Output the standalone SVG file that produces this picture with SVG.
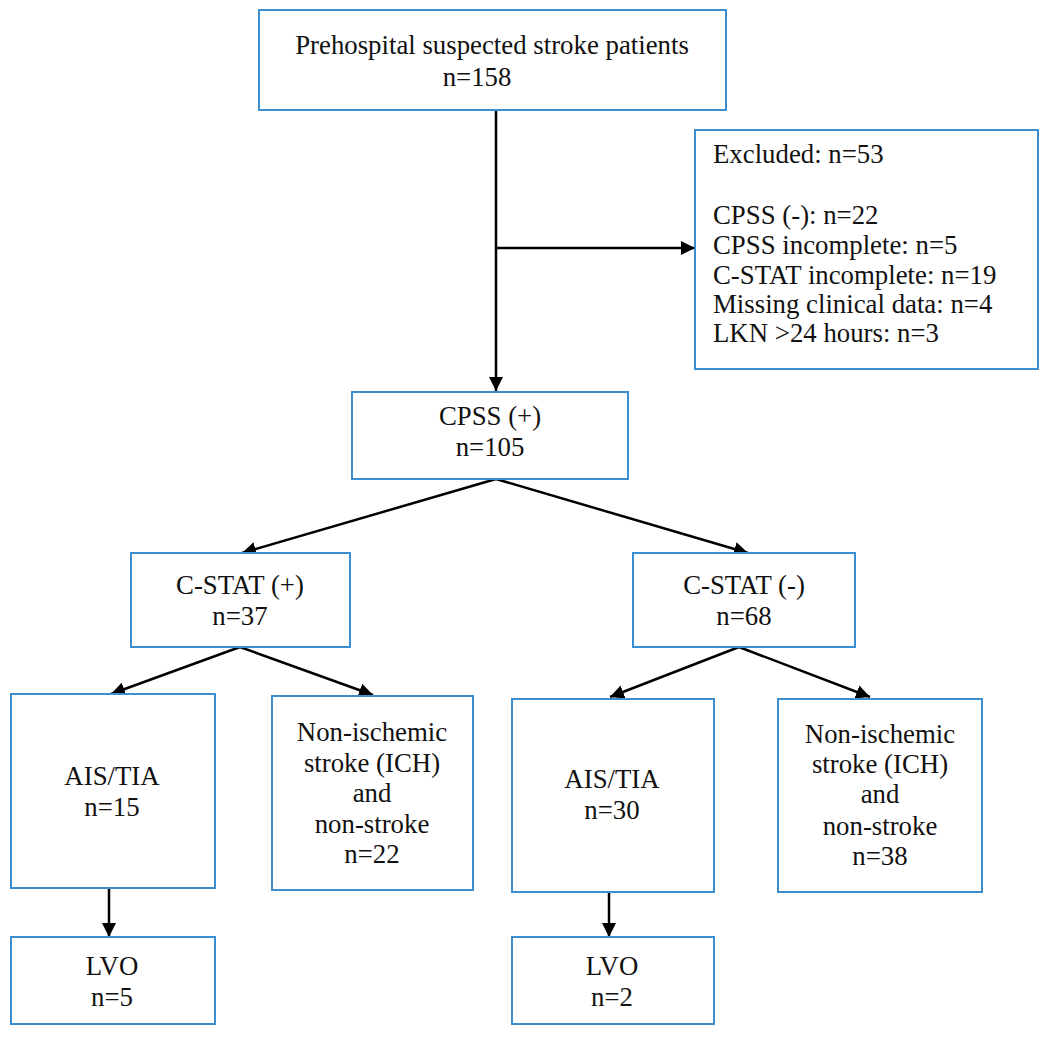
<svg xmlns="http://www.w3.org/2000/svg" width="1050" height="1037" viewBox="0 0 1050 1037">
<style>
.box{fill:#ffffff;stroke:#3b8fd0;stroke-width:2}
.t{font-family:"Liberation Serif","Times New Roman",serif;font-size:26.8px;fill:#111111}
.c{text-anchor:middle}
.ln{stroke:#000000;stroke-width:2.5;fill:none}
</style>
<defs>
<marker id="ah" viewBox="0 0 14 14" refX="14" refY="7" markerWidth="14" markerHeight="14" markerUnits="userSpaceOnUse" orient="auto">
<path d="M0,0 L14,7 L0,14 z" fill="#000000"/>
</marker>
</defs>
<rect width="1050" height="1037" fill="#ffffff"/>
<g id="connectors">
<line class="ln" x1="496" y1="110" x2="496" y2="391" marker-end="url(#ah)"/>
<line class="ln" x1="496" y1="248" x2="695" y2="248" marker-end="url(#ah)"/>
<line class="ln" x1="496" y1="479" x2="242" y2="553" marker-end="url(#ah)"/>
<line class="ln" x1="496" y1="479" x2="748" y2="553" marker-end="url(#ah)"/>
<line class="ln" x1="240" y1="647" x2="111" y2="694" marker-end="url(#ah)"/>
<line class="ln" x1="240" y1="647" x2="373" y2="695" marker-end="url(#ah)"/>
<line class="ln" x1="739" y1="647" x2="610" y2="697" marker-end="url(#ah)"/>
<line class="ln" x1="739" y1="647" x2="870" y2="697" marker-end="url(#ah)"/>
<line class="ln" x1="109" y1="888" x2="109" y2="937" marker-end="url(#ah)"/>
<line class="ln" x1="609" y1="892" x2="609" y2="937" marker-end="url(#ah)"/>
</g>
<g id="n-prehospital">
<rect class="box" x="259" y="10" width="467" height="100"/>
<text class="t c" x="492" y="54">Prehospital suspected stroke patients</text>
<text class="t c" x="477" y="86">n=158</text>
</g>
<g id="n-excluded">
<rect class="box" x="695" y="130" width="343" height="239"/>
<text class="t" x="713" y="163">Excluded: n=53</text>
<text class="t" x="713" y="224">CPSS (-): n=22</text>
<text class="t" x="713" y="254">CPSS incomplete: n=5</text>
<text class="t" x="713" y="284">C-STAT incomplete: n=19</text>
<text class="t" x="713" y="313">Missing clinical data: n=4</text>
<text class="t" x="713" y="342">LKN &gt;24 hours: n=3</text>
</g>
<g id="n-cpss">
<rect class="box" x="352" y="392" width="276" height="87"/>
<text class="t c" x="490" y="425">CPSS (+)</text>
<text class="t c" x="490" y="456">n=105</text>
</g>
<g id="n-cstat-pos">
<rect class="box" x="131" y="553" width="219" height="94"/>
<text class="t c" x="240" y="594">C-STAT (+)</text>
<text class="t c" x="240" y="625">n=37</text>
</g>
<g id="n-cstat-neg">
<rect class="box" x="633" y="553" width="222" height="94"/>
<text class="t c" x="744" y="594">C-STAT (-)</text>
<text class="t c" x="744" y="625">n=68</text>
</g>
<g id="n-ais-1">
<rect class="box" x="11" y="694" width="204" height="194"/>
<text class="t c" x="112" y="785">AIS/TIA</text>
<text class="t c" x="112" y="816">n=15</text>
</g>
<g id="n-non-1">
<rect class="box" x="272" y="696" width="201" height="194"/>
<text class="t c" x="372" y="741">Non-ischemic</text>
<text class="t c" x="372" y="772">stroke (ICH)</text>
<text class="t c" x="372" y="802">and</text>
<text class="t c" x="372" y="833">non-stroke</text>
<text class="t c" x="372" y="863">n=22</text>
</g>
<g id="n-ais-2">
<rect class="box" x="512" y="699" width="202" height="193"/>
<text class="t c" x="612" y="788">AIS/TIA</text>
<text class="t c" x="612" y="819">n=30</text>
</g>
<g id="n-non-2">
<rect class="box" x="778" y="699" width="204" height="193"/>
<text class="t c" x="880" y="743">Non-ischemic</text>
<text class="t c" x="880" y="773">stroke (ICH)</text>
<text class="t c" x="880" y="803">and</text>
<text class="t c" x="880" y="835">non-stroke</text>
<text class="t c" x="880" y="865">n=38</text>
</g>
<g id="n-lvo-1">
<rect class="box" x="11" y="937" width="204" height="87"/>
<text class="t c" x="112" y="975">LVO</text>
<text class="t c" x="112" y="1006">n=5</text>
</g>
<g id="n-lvo-2">
<rect class="box" x="512" y="937" width="202" height="87"/>
<text class="t c" x="612" y="975">LVO</text>
<text class="t c" x="612" y="1006">n=2</text>
</g>
</svg>
